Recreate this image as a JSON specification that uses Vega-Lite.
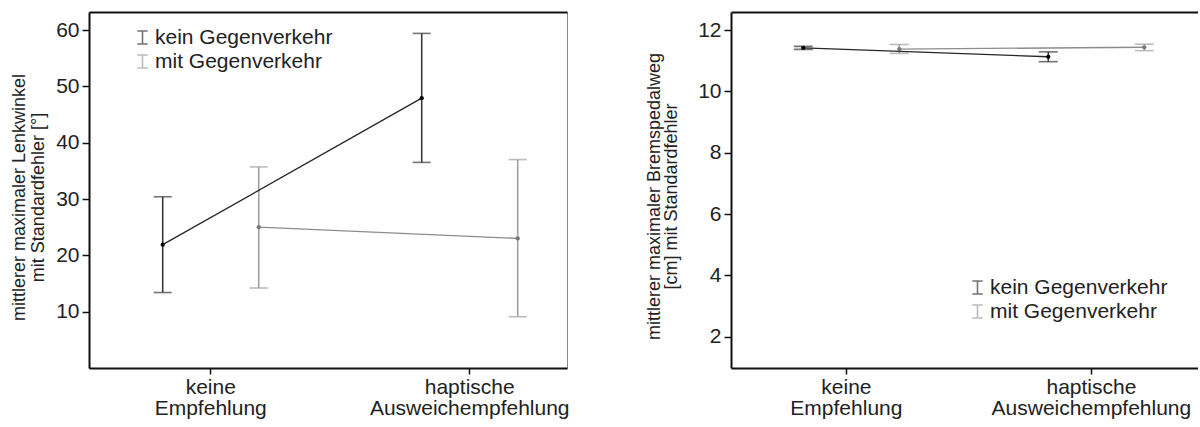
{
  "$schema": "https://vega.github.io/schema/vega-lite/v6.json",
  "background": "white",
  "padding": {"left": 10, "top": 11, "right": 0, "bottom": 0},
  "bounds": "flush",
  "spacing": 164,
  "config": {
    "font": "Liberation Sans",
    "view": {"stroke": null},
    "axis": {
      "labelFont": "Liberation Sans", "titleFont": "Liberation Sans",
      "labelColor": "#222", "titleColor": "#222", "domainColor": "#111", "tickColor": "#111",
      "grid": false, "labelLimit": 400
    },
    "legend": {
      "orient": "none", "title": null, "padding": 0,
      "symbolType": "M-0.8,-1H0.8M0,-1V1M-0.8,1H0.8",
      "symbolSize": 169, "symbolStrokeWidth": 1.6,
      "labelFont": "Liberation Sans", "labelFontSize": 21, "labelColor": "#222",
      "labelOffset": 2, "rowPadding": 2, "labelLimit": 400
    }
  },
  "datasets": {
    "lenk": [
      {"cond": "keine Empfehlung", "traffic": "kein Gegenverkehr", "mean": 21.9, "lo": 13.4, "hi": 30.4},
      {"cond": "keine Empfehlung", "traffic": "mit Gegenverkehr", "mean": 25.0, "lo": 14.2, "hi": 35.7},
      {"cond": "haptische Ausweichempfehlung", "traffic": "kein Gegenverkehr", "mean": 47.9, "lo": 36.5, "hi": 59.4},
      {"cond": "haptische Ausweichempfehlung", "traffic": "mit Gegenverkehr", "mean": 23.0, "lo": 9.1, "hi": 37.0}
    ],
    "brems": [
      {"cond": "keine Empfehlung", "traffic": "kein Gegenverkehr", "mean": 11.42, "lo": 11.37, "hi": 11.47},
      {"cond": "keine Empfehlung", "traffic": "mit Gegenverkehr", "mean": 11.38, "lo": 11.24, "hi": 11.53},
      {"cond": "haptische Ausweichempfehlung", "traffic": "kein Gegenverkehr", "mean": 11.13, "lo": 10.97, "hi": 11.29},
      {"cond": "haptische Ausweichempfehlung", "traffic": "mit Gegenverkehr", "mean": 11.44, "lo": 11.33, "hi": 11.54}
    ]
  },
  "resolve": {"scale": {"color": "independent", "stroke": "independent", "fill": "independent"}, "legend": {"color": "independent"}},
  "hconcat": [
    {
      "width": 478, "height": 356,
      "view": {"stroke": "#8a8a8a", "strokeWidth": 1},
      "data": {"name": "lenk"},
      "resolve": {"axis": {"x": "independent", "y": "independent"}},
      "encoding": {
        "xOffset": {"field": "traffic", "type": "nominal", "sort": ["kein Gegenverkehr", "mit Gegenverkehr"], "scale": {"paddingInner": 0.5, "paddingOuter": 0.194}}
      },
      "layer": [
        {
          "mark": {"type": "rule", "strokeWidth": 1.6},
          "encoding": {
            "x": {"field": "cond", "type": "nominal", "sort": ["keine Empfehlung", "haptische Ausweichempfehlung"],
              "scale": {"paddingInner": 0.3, "paddingOuter": 0.0728, "align": 0.824},
              "axis": {"orient": "bottom", "title": null, "labelAngle": 0, "labelExpr": "split(datum.label, ' ')", "labelFontSize": 21, "labelLineHeight": 21, "labelPadding": 2, "tickSize": 6, "tickWidth": 1.5, "domainWidth": 2}},
            "y": {"field": "lo", "type": "quantitative",
              "scale": {"domain": [0, 63.2], "nice": false, "zero": false},
              "axis": {"orient": "left", "values": [10, 20, 30, 40, 50, 60], "title": ["mittlerer maximaler Lenkwinkel", "mit Standardfehler [°]"], "titleFontSize": 18, "titleFontWeight": "normal", "titleLineHeight": 19, "titlePadding": 8, "titleY": 185, "labelFontSize": 21, "labelPadding": 3, "tickSize": 7, "tickWidth": 1.5, "domainWidth": 2}},
            "y2": {"field": "hi"},
            "color": {"field": "traffic", "type": "nominal", "scale": {"domain": ["kein Gegenverkehr", "mit Gegenverkehr"], "range": ["#3a3a3a", "#a0a0a0"]},
              "legend": {"legendX": 43, "legendY": 15}}
          }
        },
        {
          "mark": {"type": "tick", "thickness": 1.6, "size": 18},
          "encoding": {
            "x": {"field": "cond", "type": "nominal", "sort": ["keine Empfehlung", "haptische Ausweichempfehlung"], "axis": null},
            "y": {"field": "lo", "type": "quantitative", "axis": null},
            "color": {"field": "traffic", "type": "nominal"}
          }
        },
        {
          "mark": {"type": "tick", "thickness": 1.6, "size": 18},
          "encoding": {
            "x": {"field": "cond", "type": "nominal", "sort": ["keine Empfehlung", "haptische Ausweichempfehlung"], "axis": null},
            "y": {"field": "hi", "type": "quantitative", "axis": null},
            "color": {"field": "traffic", "type": "nominal"}
          }
        },
        {
          "mark": {"type": "line", "strokeWidth": 1.3},
          "encoding": {
            "x": {"field": "cond", "type": "nominal", "sort": ["keine Empfehlung", "haptische Ausweichempfehlung"],
              "axis": {"orient": "top", "title": null, "labels": false, "ticks": false, "domainWidth": 2}},
            "y": {"field": "mean", "type": "quantitative", "axis": null},
            "stroke": {"field": "traffic", "type": "nominal", "scale": {"domain": ["kein Gegenverkehr", "mit Gegenverkehr"], "range": ["#262626", "#8c8c8c"]}, "legend": null}
          }
        },
        {
          "mark": {"type": "point", "filled": true, "size": 18, "opacity": 1},
          "encoding": {
            "x": {"field": "cond", "type": "nominal", "sort": ["keine Empfehlung", "haptische Ausweichempfehlung"], "axis": null},
            "y": {"field": "mean", "type": "quantitative", "axis": null},
            "fill": {"field": "traffic", "type": "nominal", "scale": {"domain": ["kein Gegenverkehr", "mit Gegenverkehr"], "range": ["#000000", "#777777"]}, "legend": null}
          }
        }
      ]
    },
    {
      "width": 467, "height": 356,
      "data": {"name": "brems"},
      "resolve": {"axis": {"x": "independent", "y": "independent"}},
      "encoding": {
        "xOffset": {"field": "traffic", "type": "nominal", "sort": ["kein Gegenverkehr", "mit Gegenverkehr"], "scale": {"paddingInner": 0.5, "paddingOuter": 0.182}}
      },
      "layer": [
        {
          "mark": {"type": "rule", "strokeWidth": 1.6},
          "encoding": {
            "x": {"field": "cond", "type": "nominal", "sort": ["keine Empfehlung", "haptische Ausweichempfehlung"],
              "scale": {"paddingInner": 0.3, "paddingOuter": 0.103, "align": 0.587},
              "axis": {"orient": "bottom", "title": null, "labelAngle": 0, "labelExpr": "split(datum.label, ' ')", "labelFontSize": 21, "labelLineHeight": 21, "labelPadding": 2, "tickSize": 6, "tickWidth": 1.5, "domainWidth": 2}},
            "y": {"field": "lo", "type": "quantitative",
              "scale": {"domain": [0.98, 12.59], "nice": false, "zero": false},
              "axis": {"orient": "left", "values": [2, 4, 6, 8, 10, 12], "title": ["mittlerer maximaler Bremspedalweg", "[cm] mit Standardfehler"], "titleFontSize": 18, "titleFontWeight": "normal", "titleLineHeight": 17, "titlePadding": 17, "titleY": 184, "labelFontSize": 21, "labelPadding": 3, "tickSize": 7, "tickWidth": 1.5, "domainWidth": 2}},
            "y2": {"field": "hi"},
            "color": {"field": "traffic", "type": "nominal", "scale": {"domain": ["kein Gegenverkehr", "mit Gegenverkehr"], "range": ["#3a3a3a", "#a0a0a0"]},
              "legend": {"legendX": 236, "legendY": 265}}
          }
        },
        {
          "mark": {"type": "tick", "thickness": 1.6, "size": 19},
          "encoding": {
            "x": {"field": "cond", "type": "nominal", "sort": ["keine Empfehlung", "haptische Ausweichempfehlung"], "axis": null},
            "y": {"field": "lo", "type": "quantitative", "axis": null},
            "color": {"field": "traffic", "type": "nominal"}
          }
        },
        {
          "mark": {"type": "tick", "thickness": 1.6, "size": 19},
          "encoding": {
            "x": {"field": "cond", "type": "nominal", "sort": ["keine Empfehlung", "haptische Ausweichempfehlung"], "axis": null},
            "y": {"field": "hi", "type": "quantitative", "axis": null},
            "color": {"field": "traffic", "type": "nominal"}
          }
        },
        {
          "mark": {"type": "line", "strokeWidth": 1.3},
          "encoding": {
            "x": {"field": "cond", "type": "nominal", "sort": ["keine Empfehlung", "haptische Ausweichempfehlung"],
              "axis": {"orient": "top", "title": null, "labels": false, "ticks": false, "domainWidth": 2}},
            "y": {"field": "mean", "type": "quantitative", "axis": null},
            "stroke": {"field": "traffic", "type": "nominal", "scale": {"domain": ["kein Gegenverkehr", "mit Gegenverkehr"], "range": ["#262626", "#8c8c8c"]}, "legend": null}
          }
        },
        {
          "mark": {"type": "point", "filled": true, "size": 18, "opacity": 1},
          "encoding": {
            "x": {"field": "cond", "type": "nominal", "sort": ["keine Empfehlung", "haptische Ausweichempfehlung"], "axis": null},
            "y": {"field": "mean", "type": "quantitative", "axis": null},
            "fill": {"field": "traffic", "type": "nominal", "scale": {"domain": ["kein Gegenverkehr", "mit Gegenverkehr"], "range": ["#000000", "#777777"]}, "legend": null}
          }
        }
      ]
    }
  ]
}
